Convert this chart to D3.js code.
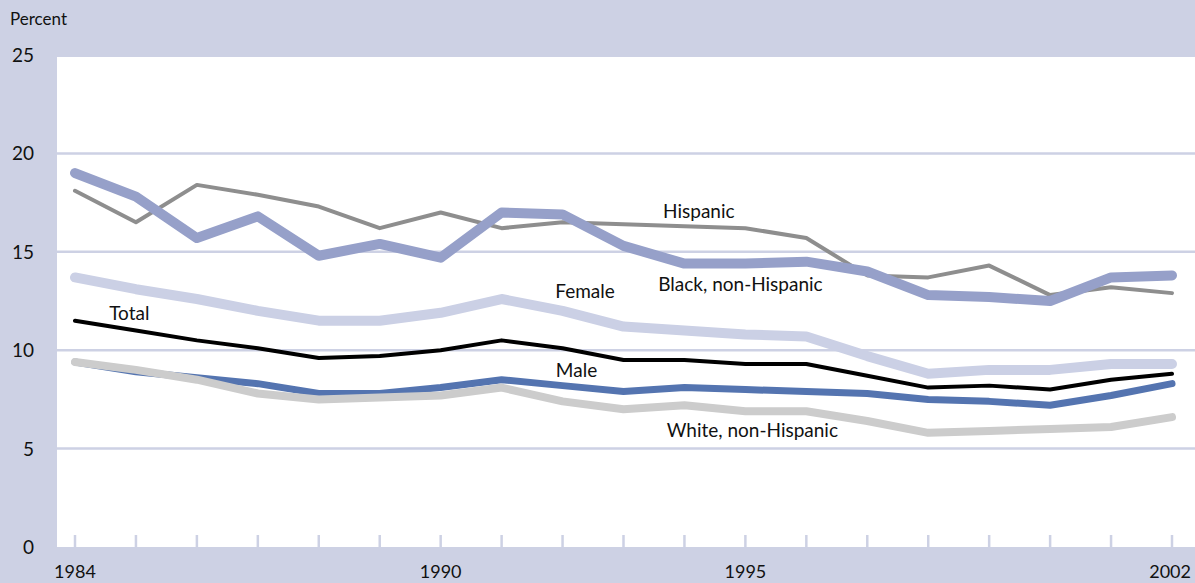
<!DOCTYPE html>
<html>
<head>
<meta charset="utf-8">
<script src="https://cdn.jsdelivr.net/npm/d3@7"></script>
<style>
  body { margin: 0; background: #cdd1e4; }
  svg { display: block; }
</style>
</head>
<body>
<div id="chart"></div>
<script>

// years on the x axis
var years = d3.range(1984, 2003);
var yearLabels = [1984, 1990, 1995, 2002];
var yTicks = [0, 5, 10, 15, 20, 25];

// percent values, one per year 1984-2002
var hispanic = [18.1, 16.5, 18.4, 17.9, 17.3, 16.2, 17.0, 16.2, 16.5, 16.4, 16.3, 16.2, 15.7, 13.8, 13.7, 14.3, 12.8, 13.2, 12.9];
var black    = [19.0, 17.8, 15.7, 16.8, 14.8, 15.4, 14.7, 17.0, 16.9, 15.3, 14.4, 14.4, 14.5, 14.0, 12.8, 12.7, 12.5, 13.7, 13.8];
var female   = [13.7, 13.1, 12.6, 12.0, 11.5, 11.5, 11.9, 12.6, 12.0, 11.2, 11.0, 10.8, 10.7, 9.7, 8.8, 9.0, 9.0, 9.3, 9.3];
var total    = [11.5, 11.0, 10.5, 10.1, 9.6, 9.7, 10.0, 10.5, 10.1, 9.5, 9.5, 9.3, 9.3, 8.7, 8.1, 8.2, 8.0, 8.5, 8.8];
var male     = [9.4, 8.9, 8.6, 8.3, 7.8, 7.8, 8.1, 8.5, 8.2, 7.9, 8.1, 8.0, 7.9, 7.8, 7.5, 7.4, 7.2, 7.7, 8.3];
var white    = [9.4, 9.0, 8.5, 7.8, 7.5, 7.6, 7.7, 8.1, 7.4, 7.0, 7.2, 6.9, 6.9, 6.4, 5.8, 5.9, 6.0, 6.1, 6.6];

var series = [
    { name: "Hispanic", values: hispanic, color: "#8e8e8e", width: 4 },
    { name: "Black, non-Hispanic", values: black, color: "#96a0c9", width: 10 },
    { name: "Female", values: female, color: "#cbd0e5", width: 10 },
    { name: "Total", values: total, color: "#000000", width: 4 },
    { name: "Male", values: male, color: "#5474b0", width: 7 },
    { name: "White, non-Hispanic", values: white, color: "#cccccc", width: 8 }
];

// where each line's name sits (year, percent at baseline)
var labels = [
    { text: "Hispanic", year: 1993.65, value: 16.72 },
    { text: "Black, non-Hispanic", year: 1993.57, value: 13.0 },
    { text: "Female", year: 1991.88, value: 12.65 },
    { text: "Total", year: 1984.56, value: 11.53 },
    { text: "Male", year: 1991.89, value: 8.64 },
    { text: "White, non-Hispanic", year: 1993.71, value: 5.59 }
];

var W = 1195, H = 583;
var plot = { left: 57, top: 57, right: 1195, bottom: 547 };
var font = '"Futura", "Century Gothic", Lato, sans-serif';
var lav = "#cdd1e4";

var x = d3.scaleLinear().domain([1984, 2002]).range([75, 1172]);
var y = d3.scaleLinear().domain([0, 25]).range([547, 55]);

var svg = d3.select("#chart")
    .append("svg")
    .attr("width", W)
    .attr("height", H);

svg.append("rect")
    .attr("width", W).attr("height", H)
    .attr("fill", lav);

svg.append("rect")
    .attr("x", plot.left).attr("y", plot.top)
    .attr("width", plot.right - plot.left)
    .attr("height", plot.bottom - plot.top)
    .attr("fill", "#ffffff");

// gridlines
svg.selectAll(".grid")
    .data([5, 10, 15, 20])
    .enter().append("line")
    .attr("class", "grid")
    .attr("x1", plot.left).attr("x2", plot.right)
    .attr("y1", function(d) { return y(d); })
    .attr("y2", function(d) { return y(d); })
    .attr("stroke", lav)
    .attr("stroke-width", 2.5);

// year tick marks
svg.selectAll(".tick")
    .data(years)
    .enter().append("line")
    .attr("class", "tick")
    .attr("x1", function(d) { return x(d); })
    .attr("x2", function(d) { return x(d); })
    .attr("y1", plot.bottom - 12).attr("y2", plot.bottom)
    .attr("stroke", lav)
    .attr("stroke-width", 2.5);

// y labels
svg.selectAll(".ylab")
    .data(yTicks)
    .enter().append("text")
    .attr("class", "ylab")
    .attr("x", 34)
    .attr("y", function(d) { return y(d) + 7; })
    .attr("text-anchor", "end")
    .style("font-family", font)
    .style("font-size", "19px")
    .attr("fill", "#111")
    .text(function(d) { return d; });

svg.append("text")
    .attr("x", 10).attr("y", 25)
    .style("font-family", font)
    .style("font-size", "17px")
    .attr("fill", "#111")
    .text("Percent");

// x labels
svg.selectAll(".xlab")
    .data(yearLabels)
    .enter().append("text")
    .attr("class", "xlab")
    .attr("x", function(d) { return x(d); })
    .attr("y", 578)
    .attr("text-anchor", function(d) { return d == 2002 ? "end" : "middle"; })
    .attr("dx", function(d) { return d == 2002 ? 19 : 0; })
    .style("font-family", font)
    .style("font-size", "18px")
    .attr("fill", "#111")
    .text(function(d) { return d; });

var line = d3.line()
    .x(function(d, i) { return x(years[i]); })
    .y(function(d) { return y(d); });

svg.selectAll(".series")
    .data(series)
    .enter().append("path")
    .attr("class", "series")
    .attr("d", function(d) { return line(d.values); })
    .attr("fill", "none")
    .attr("stroke", function(d) { return d.color; })
    .attr("stroke-width", function(d) { return d.width; })
    .attr("stroke-linecap", "round")
    .attr("stroke-linejoin", "round");

svg.selectAll(".lab")
    .data(labels)
    .enter().append("text")
    .attr("class", "lab")
    .attr("x", function(d) { return x(d.year); })
    .attr("y", function(d) { return y(d.value); })
    .style("font-family", font)
    .style("font-size", "19px")
    .attr("fill", "#111")
    .text(function(d) { return d.text; });

</script>
</body>
</html>
